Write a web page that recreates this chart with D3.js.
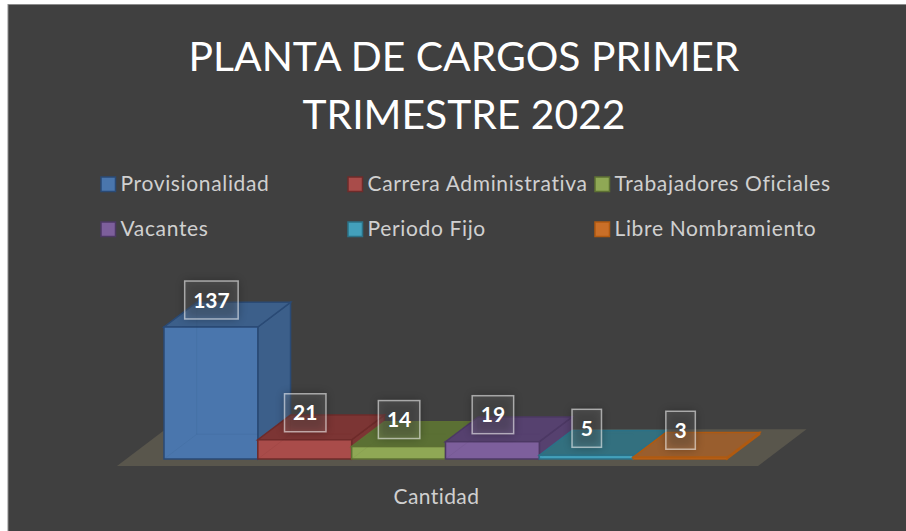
<!DOCTYPE html>
<html><head><meta charset="utf-8">
<style>html,body{margin:0;padding:0;background:#fff}svg{display:block}text{font-family:Lato,"Open Sans",sans-serif}</style>
<script src="https://cdn.jsdelivr.net/npm/d3@7/dist/d3.min.js"></script></head>
<body><svg id="c" width="906" height="531"></svg>
<script>
const categories=["Provisionalidad","Carrera Administrativa","Trabajadores Oficiales","Vacantes","Periodo Fijo","Libre Nombramiento"];
const values=[137,21,14,19,5,3];
const frontColors=["#4a76ad","#a94c4a","#8fa855","#7d5f9c","#43a0bb","#c96f28"];
const sideColors=["#3c5f8a","#7c3534","#5b7034","#56416f","#33707f","#995e2e"];
const edgeColors=["#2a4a75","#6e2b2a","#5d7033","#4c3864","#2b7187","#b05a10"];
const titleLines=["PLANTA DE CARGOS PRIMER","TRIMESTRE 2022"];
const axisLabel="Cantidad";
const svg=d3.select("#c");
svg.append("rect").attr("width",906).attr("height",531).attr("fill","#fff");
svg.append("rect").attr("x",8).attr("y",4.5).attr("width",910).attr("height",540).attr("fill","#404040").attr("stroke","#8c8c8c").attr("stroke-width",1);
const defs=svg.append("defs");
defs.append("filter").attr("id","sh").attr("x","-40%").attr("y","-40%").attr("width","180%").attr("height","180%")
  .append("feGaussianBlur").attr("stdDeviation",5);
svg.append("g").selectAll("text").data(titleLines).join("text")
  .attr("x",464).attr("y",(d,i)=>71+i*57.5).attr("text-anchor","middle").attr("fill","#fff")
  .attr("font-size",40.8).attr("font-weight",400).text(d=>d);
const lx=d3.scalePoint().domain(d3.range(3)).range([101,595]);
const ly=d3.scalePoint().domain(d3.range(2)).range([184,229]);
const lg=svg.append("g").selectAll("g").data(categories).join("g")
  .attr("transform",(d,i)=>`translate(${lx(i%3)},${ly(Math.floor(i/3))})`);
lg.append("rect").attr("x",0).attr("y",-7).attr("width",14.5).attr("height",14.5)
  .attr("fill",(d,i)=>frontColors[i]).attr("stroke",(d,i)=>edgeColors[i]).attr("stroke-width",1.5);
lg.append("text").attr("x",19.5).attr("y",7).attr("fill","#d0d0d0").attr("font-size",21).attr("letter-spacing",0.65).text(d=>d);
const x=d3.scaleBand().domain(categories).range([164,727]).padding(0);
const y=d3.scaleLinear().domain([1.2,137]).range([459,327]);
const dx=32.7,dy=-24.7;
const base=y.domain()[0];
const floorX=d3.scaleLinear().domain([0,1]).range([117,758]);
svg.append("polygon").attr("points",[[floorX(0),466],[floorX(1),466],[floorX(1)+48.5,429.3],[floorX(0)+48.5,429.3]].join(" ")).attr("fill","#59564c");
const poly=a=>a.map(p=>p.join(",")).join(" ");
const bars=svg.append("g").selectAll("g").data(categories).join("g");
bars.each(function(c,i){
  const g=d3.select(this),x0=x(c),x1=x0+x.bandwidth(),yT=y(values[i]),yB=y(base);
  const e=edgeColors[i];
  g.append("polygon").attr("points",poly([[x1,yT],[x1+dx,yT+dy],[x1+dx,yB+dy],[x1,yB]])).attr("fill",sideColors[i]).attr("stroke",e).attr("stroke-width",1.5);
  g.append("polygon").attr("points",poly([[x0,yT],[x1,yT],[x1+dx,yT+dy],[x0+dx,yT+dy]])).attr("fill",sideColors[i]).attr("stroke",e).attr("stroke-width",1.5);
  g.append("rect").attr("x",x0).attr("y",yT).attr("width",x1-x0).attr("height",yB-yT).attr("fill",frontColors[i]).attr("stroke",e).attr("stroke-width",1.5);
  g.append("path").attr("d",`M${x0+dx},${yT+dy}V${yB+dy}H${x1}M${x0},${yB}L${x0+dx},${yB+dy}`).attr("fill","none").attr("stroke",e).attr("stroke-opacity",0.1).attr("stroke-width",1);
});
const lab=svg.append("g").selectAll("g").data(categories).join("g")
  .attr("transform",(c,i)=>`translate(${x(c)+x.bandwidth()/2+0.5},${y(values[i])-27})`);
const bw=v=>String(v).length>2?53.5:String(v).length>1?41.5:29.5;
lab.append("rect").attr("x",(c,i)=>-bw(values[i])/2).attr("y",-19).attr("width",(c,i)=>bw(values[i])).attr("height",38)
  .attr("fill","#000").attr("opacity",0.3).attr("filter","url(#sh)");
lab.append("rect").attr("x",(c,i)=>-bw(values[i])/2).attr("y",-19).attr("width",(c,i)=>bw(values[i])).attr("height",38)
  .attr("fill","rgba(255,255,255,0.1)").attr("stroke","rgba(255,255,255,0.55)").attr("stroke-width",1.5);
lab.append("text").attr("y",7.5).attr("text-anchor","middle").attr("fill","#fff").attr("font-size",21).attr("font-weight",700).text((c,i)=>values[i]);
svg.append("text").attr("x",436.5).attr("y",504).attr("text-anchor","middle").attr("fill","#d0d0d0").attr("font-size",21).attr("letter-spacing",0.4).text(axisLabel);
</script></body></html>
